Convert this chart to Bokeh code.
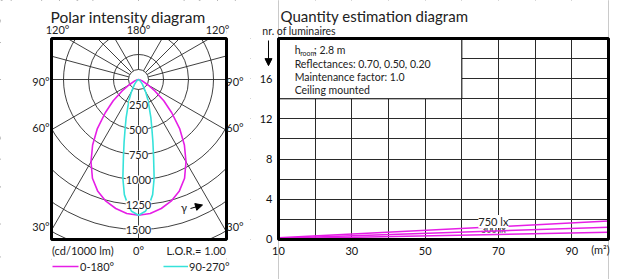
import numpy as np
from bokeh.plotting import figure
from bokeh.models import Range1d, LabelSet, ColumnDataSource, Arrow, NormalHead, FixedTicker
from bokeh.layouts import row
from bokeh.embed import file_html
from bokeh.resources import INLINE
from bokeh.core.properties import value

# ---------------- data: polar intensity diagram (cd/1000 lm) ----------------
gamma_c0 = [0, 5, 10, 15, 20, 25, 30, 35, 40, 45, 50, 55, 60, 70, 80, 90]
int_c0 = [1357, 1345, 1310, 1260, 1190, 1090, 950, 800, 640, 470, 330, 200, 110, 40, 12, 0]
gamma_c90 = [0, 3, 5, 7, 9, 11, 13, 15, 18, 21, 25, 30, 40, 50, 70, 90]
int_c90 = [1357, 1320, 1250, 1160, 1000, 790, 640, 520, 400, 300, 220, 140, 60, 25, 5, 0]
rings = [100, 250, 500, 750, 1000, 1250, 1500, 1750, 2000, 2250]
ring_label_values = [250, 500, 750, 1000, 1250, 1500]
ring_labels = ["250", "500", "750", "1000", "1250", "1500"]
spoke_angles = [0, 30, 60, 90, 105, 120, 135, 150, 180]
polar_box = dict(left=-870, right=880, bottom=-1600, top=410)

# ---------------- data: quantity estimation diagram ----------------
area = [10, 100]
n_750 = [0.18, 1.83]
n_500 = [0.12, 1.22]
n_300 = [0.07, 0.73]
x_ticks = [10, 30, 50, 70, 90]
y_ticks = [0, 4, 8, 12, 16]
x_grid = [10, 20, 30, 40, 50, 60, 70, 80, 90, 100]
y_grid = [0, 2, 4, 6, 8, 10, 12, 14, 16, 18, 20]
box_lines = ["Reflectances: 0.70, 0.50, 0.20", "Maintenance factor: 1.0", "Ceiling mounted"]

FONT = "Lato"
TXT = "#222222"
MAG = "#e61ee6"
CYA = "#36e2da"
GRIDC = "#2a2a2a"
H = 279


def txt(p, x, y, t, size="11px", align="center", color=TXT, baseline="middle"):
    p.text(x=[x], y=[y], text=[t], text_font=value(FONT), text_font_size=size, text_color=color,
           text_align=align, text_baseline=baseline)


def masks(p, xr, yr, b):
    L, R, B, T = b["left"], b["right"], b["bottom"], b["top"]
    p.quad(left=[xr[0], R, L, L], right=[L, xr[1], R, R],
           bottom=[yr[0], yr[0], T, yr[0]], top=[yr[1], yr[1], yr[1], B],
           fill_color="white", line_color=None)
    p.quad(left=[L], right=[R], bottom=[B], top=[T], fill_color=None, line_color="black", line_width=3)


# ================= polar figure (whole canvas is the frame) =================
px_range = (-1380, 1120)
py_range = (-2000, 790)
p1 = figure(width=250, height=H, output_backend="svg", toolbar_location=None, title=None,
            x_range=Range1d(*px_range), y_range=Range1d(*py_range),
            min_border_left=0, min_border_right=0, min_border_top=0, min_border_bottom=0)
p1.axis.visible = False
p1.grid.visible = False
p1.outline_line_color = None
p1.background_fill_color = "white"
p1.border_fill_color = "white"

p1.circle(x=[0] * len(rings), y=[0] * len(rings), radius=rings, fill_color=None,
          line_color=GRIDC, line_width=0.9)

x0s, y0s, x1s, y1s = [], [], [], []
for a in spoke_angles:
    g = np.radians(a)
    sides = [1] if a in (0, 180) else [-1, 1]
    for s in sides:
        x0s.append(s * rings[0] * np.sin(g)); y0s.append(-rings[0] * np.cos(g))
        x1s.append(s * rings[-1] * np.sin(g)); y1s.append(-rings[-1] * np.cos(g))
p1.segment(x0=x0s, y0=y0s, x1=x1s, y1=y1s, line_color=GRIDC, line_width=0.9)


def polar_xy(gammas, ints):
    g = np.radians(gammas)
    r = np.array(ints, float)
    xr = r * np.sin(g)
    yr = -r * np.cos(g)
    return np.concatenate([-xr[::-1], xr[1:]]), np.concatenate([yr[::-1], yr[1:]])


xa, ya = polar_xy(gamma_c0, int_c0)
xb, yb = polar_xy(gamma_c90, int_c90)
p1.line(xa, ya, line_color=MAG, line_width=1.6)
p1.line(xb, yb, line_color=CYA, line_width=1.6)

src = ColumnDataSource(dict(x=[0] * len(ring_label_values), y=[-v for v in ring_label_values], t=ring_labels))
p1.add_layout(LabelSet(x="x", y="y", text="t", source=src, text_align="center", text_baseline="middle",
                       text_font=value(FONT), text_font_size="11px", text_color=TXT,
                       background_fill_color="white"))

txt(p1, 455, -1275, "γ")
p1.add_layout(Arrow(end=NormalHead(size=7, fill_color="black", line_color="black"),
                    x_start=520, y_start=-1290, x_end=640, y_end=-1255, line_color="black", line_width=1))

masks(p1, px_range, py_range, polar_box)

txt(p1, -880, 630, "Polar intensity diagram", size="15.5px", align="left")
txt(p1, -810, 500, "120°")
txt(p1, 0, 500, "180°")
txt(p1, 790, 500, "120°")
txt(p1, -975, -20, "90°")
txt(p1, 965, -20, "90°")
txt(p1, -975, -480, "60°")
txt(p1, 965, -480, "60°")
txt(p1, -975, -1470, "30°")
txt(p1, 965, -1470, "30°")
txt(p1, -865, -1710, "(cd/1000 lm)", align="left")
txt(p1, 0, -1710, "0°")
txt(p1, 875, -1710, "L.O.R.= 1.00", align="right")
txt(p1, -585, -1870, "0-180°", align="left")
txt(p1, 505, -1870, "90-270°", align="left")
p1.segment(x0=[-860, 250], y0=[-1870, -1870], x1=[-600, 495], y1=[-1870, -1870],
           line_color=[MAG, CYA], line_width=1.6)

# ================= quantity figure (whole canvas is the frame) =================
qx_range = (2.364, 107.09)
qy_range = (-3.98, 23.78)
qbox = dict(left=10, right=100, bottom=0, top=20)
p2 = figure(width=384, height=H, output_backend="svg", toolbar_location=None, title=None,
            x_range=Range1d(*qx_range), y_range=Range1d(*qy_range),
            min_border_left=0, min_border_right=0, min_border_top=0, min_border_bottom=0)
p2.outline_line_color = None
p2.background_fill_color = "white"
p2.border_fill_color = "white"
p2.xgrid.ticker = FixedTicker(ticks=x_grid)
p2.ygrid.ticker = FixedTicker(ticks=y_grid)
p2.grid.grid_line_color = GRIDC
p2.grid.grid_line_width = 1
p2.grid.grid_line_alpha = 1
p2.xaxis.ticker = FixedTicker(ticks=x_ticks)
p2.yaxis.ticker = FixedTicker(ticks=y_ticks)
p2.xaxis.fixed_location = 0
p2.yaxis.fixed_location = 10
for ax in (p2.xaxis[0], p2.yaxis[0]):
    ax.axis_line_color = None
    ax.major_tick_line_color = None
    ax.minor_tick_line_color = None
    ax.major_tick_out = 0
    ax.major_tick_in = 0
    ax.minor_tick_out = 0
    ax.minor_tick_in = 0
    ax.major_label_text_font = FONT
    ax.major_label_text_font_size = "11px"
    ax.major_label_text_color = "#111111"
p2.xaxis[0].major_label_standoff = 8
p2.yaxis[0].major_label_standoff = 6

p2.quad(left=[10], right=[60], bottom=[14], top=[20], fill_color="white", line_color="black", line_width=1)
txt(p2, 14.4, 18.85, "h", size="10.5px", align="left")
txt(p2, 15.9, 18.55, "room", size="7px", align="left")
txt(p2, 19.7, 18.85, ": 2.8 m", size="10.5px", align="left")
p2.text(x=[14.4] * 3, y=[17.5, 16.2, 14.9], text=box_lines, text_font=value(FONT),
        text_font_size="10.5px", text_color=TXT, text_baseline="middle")

p2.text(x=[68.6, 68.6], y=[1.12, 0.95], text=["500 lx", "300 lx"], text_font=value(FONT),
        text_font_size="9px", text_color="#555555", text_align="center", text_baseline="middle")
p2.line(area, n_750, line_color=MAG, line_width=1.5)
p2.line(area, n_500, line_color=MAG, line_width=1.5)
p2.line(area, n_300, line_color=MAG, line_width=1.5)

masks(p2, qx_range, qy_range, qbox)

p2.add_layout(LabelSet(x="x", y="y", text="t", source=ColumnDataSource(dict(x=[68.6], y=[1.8], t=["750 lx"])),
                       text_align="center", text_baseline="middle", text_font=value(FONT),
                       text_font_size="11px", text_color=TXT, background_fill_color="white"))
txt(p2, 10.55, 22.2, "Quantity estimation diagram", size="15px", align="left")
txt(p2, 5.6, 20.75, "nr. of luminaires", size="10.5px", align="left")
txt(p2, 97.8, -1.0, "(m²)")
p2.add_layout(Arrow(end=NormalHead(size=7, fill_color="black", line_color="black"),
                    x_start=7.27, y_start=19.8, x_end=7.27, y_end=17.3, line_color="black", line_width=1))

layout = row(p1, p2)
open("out.html", "w").write(file_html(layout, INLINE))
